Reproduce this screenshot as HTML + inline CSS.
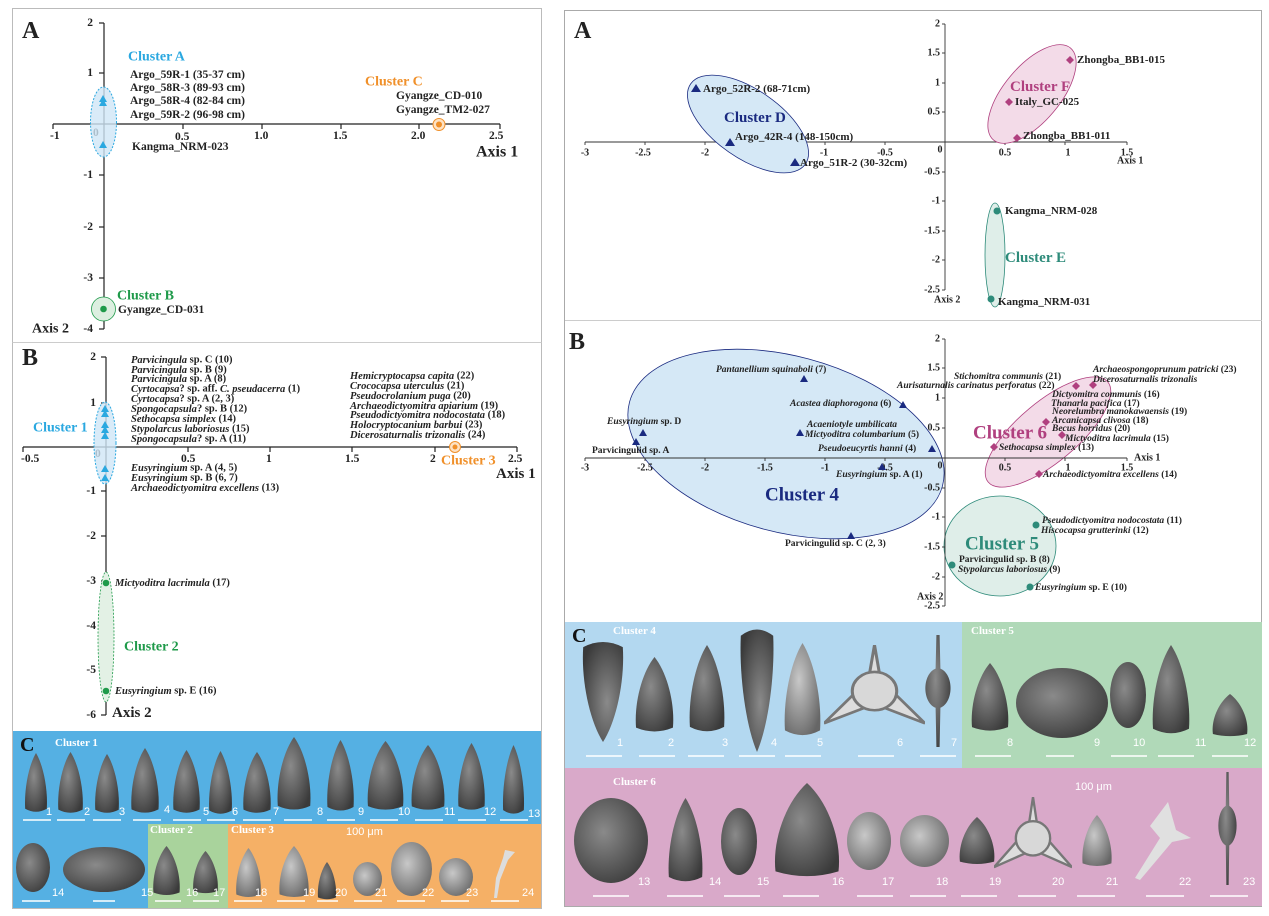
<!DOCTYPE html>
<html><head><meta charset="utf-8"><style>
html,body{margin:0;padding:0;background:#fff;}
svg{display:block;}
text{font-family:"Liberation Serif",serif;font-weight:bold;fill:#222;}
.c{dominant-baseline:central;}
.t{font-size:11.5px;}
.ri{font-size:9.5px;font-style:italic;}
g.n text, text.n{font-family:"Liberation Sans",sans-serif;font-weight:normal;fill:#fff;font-size:11px;}
.tk{font-size:11.5px;}
.tk2{font-size:10px;}
</style></head><body>
<svg width="1269" height="916" viewBox="0 0 1269 916" xmlns="http://www.w3.org/2000/svg">
<defs>
<radialGradient id="g" cx="0.4" cy="0.4" r="0.7"><stop offset="0" stop-color="#8a8a8a"/><stop offset="1" stop-color="#3a3a3a"/></radialGradient>
<radialGradient id="gl" cx="0.4" cy="0.4" r="0.7"><stop offset="0" stop-color="#c8c8c8"/><stop offset="1" stop-color="#666"/></radialGradient>
<symbol id="cone" viewBox="0 0 10 10" preserveAspectRatio="none"><path d="M5 0 C8 2 10 6 9.5 9.3 Q5 10.3 0.5 9.3 C0 6 2 2 5 0Z" fill="url(#g)"/></symbol>
<symbol id="conel" viewBox="0 0 10 10" preserveAspectRatio="none"><path d="M5 0 C8 2 10 6 9.5 9.3 Q5 10.3 0.5 9.3 C0 6 2 2 5 0Z" fill="url(#gl)"/></symbol>
<symbol id="ell" viewBox="0 0 10 10" preserveAspectRatio="none"><ellipse cx="5" cy="5" rx="5" ry="5" fill="url(#g)"/></symbol>
<symbol id="elll" viewBox="0 0 10 10" preserveAspectRatio="none"><ellipse cx="5" cy="5" rx="5" ry="5" fill="url(#gl)"/></symbol>
<symbol id="spin" viewBox="0 0 10 10" preserveAspectRatio="none"><path d="M4.6 0 L5.4 0 L5.6 3 C9 3.5 9 6 5.6 6.5 L5.4 10 L4.6 10 L4.4 6.5 C1 6 1 3.5 4.4 3Z" fill="url(#g)"/></symbol>
<symbol id="star" viewBox="0 0 10 10" preserveAspectRatio="none"><path d="M5 0 L5.6 4 L10 9 L5.5 7 L5 7.2 L4.5 7 L0 9 L4.4 4Z" fill="#ddd" stroke="#777" stroke-width="0.3"/><circle cx="5" cy="5.3" r="2.2" fill="#d8d8d8" stroke="#777" stroke-width="0.3"/></symbol>
</defs>

<!-- LEFT PANEL -->
<rect x="12.5" y="8.5" width="529" height="900" fill="#fff" stroke="#bbb"/>
<line x1="12.5" y1="342.5" x2="541.5" y2="342.5" stroke="#ccc"/>

<!-- Left A -->
<text x="22" y="31" style="font-size:24px" class="c">A</text>
<g stroke="#222" stroke-width="1.2" fill="none">
<line x1="53" y1="124" x2="500" y2="124"/>
<line x1="104" y1="23" x2="104" y2="329"/>
<line x1="53" y1="124" x2="53" y2="129"/><line x1="183" y1="124" x2="183" y2="129"/><line x1="262" y1="124" x2="262" y2="129"/><line x1="341" y1="124" x2="341" y2="129"/><line x1="419" y1="124" x2="419" y2="129"/><line x1="500" y1="124" x2="500" y2="129"/>
<line x1="99" y1="23" x2="104" y2="23"/><line x1="99" y1="73" x2="104" y2="73"/><line x1="99" y1="175" x2="104" y2="175"/><line x1="99" y1="227" x2="104" y2="227"/><line x1="99" y1="278" x2="104" y2="278"/><line x1="99" y1="329" x2="104" y2="329"/>
</g>
<g class="tk c">
<text x="50" y="136">-1</text><text x="93" y="133">0</text><text x="175" y="137">0.5</text><text x="254" y="136">1.0</text><text x="333" y="136">1.5</text><text x="411" y="136">2.0</text><text x="489" y="136">2.5</text>
</g>
<g class="tk c" text-anchor="end">
<text x="93" y="23">2</text><text x="93" y="73">1</text><text x="93" y="175">-1</text><text x="93" y="227">-2</text><text x="93" y="278">-3</text><text x="93" y="329">-4</text>
</g>
<text x="476" y="152" class="c" style="font-size:16px">Axis 1</text>
<text x="32" y="329" class="c" style="font-size:14px">Axis 2</text>
<ellipse cx="103.5" cy="122" rx="13" ry="35" fill="#cfe6f6" fill-opacity="0.8" stroke="#2aa8e0" stroke-dasharray="2,1.5"/>
<polygon points="103,95 99,102 107,102" fill="#2aa8e0"/><polygon points="103,99 99,106 107,106" fill="#2aa8e0"/><polygon points="103,141 99,148 107,148" fill="#2aa8e0"/>
<text x="128" y="57" class="c" style="font-size:14px;fill:#2aa8e0">Cluster A</text>
<g class="t c"><text x="130" y="75">Argo_59R-1 (35-37 cm)</text><text x="130" y="88">Argo_58R-3 (89-93 cm)</text><text x="130" y="101">Argo_58R-4 (82-84 cm)</text><text x="130" y="115">Argo_59R-2 (96-98 cm)</text><text x="132" y="147">Kangma_NRM-023</text>
<text x="396" y="96">Gyangze_CD-010</text><text x="396" y="110">Gyangze_TM2-027</text><text x="118" y="310">Gyangze_CD-031</text></g>
<text x="365" y="82" class="c" style="font-size:14px;fill:#f0902a">Cluster C</text>
<circle cx="439" cy="124.5" r="6" fill="#fde2c4" stroke="#f0902a"/><circle cx="439" cy="124.5" r="3" fill="#f0902a"/>
<text x="117" y="296" class="c" style="font-size:14px;fill:#1f9a4a">Cluster B</text>
<circle cx="103.5" cy="309" r="12" fill="#dcefe0" stroke="#1f9a4a" stroke-width="0.8"/><circle cx="103.5" cy="309" r="3.3" fill="#1f9a4a"/>

<!-- Left B -->
<text x="22" y="358" style="font-size:24px" class="c">B</text>
<g stroke="#222" stroke-width="1.2" fill="none">
<line x1="23" y1="447" x2="517" y2="447"/>
<line x1="106" y1="357" x2="106" y2="715"/>
<line x1="23" y1="447" x2="23" y2="452"/><line x1="188" y1="447" x2="188" y2="452"/><line x1="270" y1="447" x2="270" y2="452"/><line x1="352" y1="447" x2="352" y2="452"/><line x1="435" y1="447" x2="435" y2="452"/><line x1="517" y1="447" x2="517" y2="452"/>
<line x1="101" y1="357" x2="106" y2="357"/><line x1="101" y1="403" x2="106" y2="403"/><line x1="101" y1="491" x2="106" y2="491"/><line x1="101" y1="536" x2="106" y2="536"/><line x1="101" y1="581" x2="106" y2="581"/><line x1="101" y1="626" x2="106" y2="626"/><line x1="101" y1="670" x2="106" y2="670"/><line x1="101" y1="715" x2="106" y2="715"/>
</g>
<g class="tk c">
<text x="21" y="459">-0.5</text><text x="95" y="454">0</text><text x="181" y="459">0.5</text><text x="266" y="459">1</text><text x="345" y="459">1.5</text><text x="430" y="459">2</text><text x="508" y="459">2.5</text>
</g>
<g class="tk c" text-anchor="end">
<text x="96" y="357">2</text><text x="96" y="403">1</text><text x="96" y="491">-1</text><text x="96" y="536">-2</text><text x="96" y="581">-3</text><text x="96" y="626">-4</text><text x="96" y="670">-5</text><text x="96" y="715">-6</text>
</g>
<text x="496" y="474" class="c" style="font-size:15px">Axis 1</text>
<text x="112" y="713" class="c" style="font-size:15px">Axis 2</text>
<ellipse cx="105" cy="443" rx="11" ry="41" fill="#cfe6f6" fill-opacity="0.8" stroke="#2aa8e0" stroke-dasharray="2,1.5"/>
<g fill="#2aa8e0"><polygon points="105,405 101,412 109,412"/><polygon points="105,410 101,417 109,417"/><polygon points="105,421 101,428 109,428"/><polygon points="105,426 101,433 109,433"/><polygon points="105,432 101,439 109,439"/><polygon points="105,465 101,472 109,472"/><polygon points="105,474 101,481 109,481"/></g>
<text x="33" y="428" class="c" style="font-size:14px;fill:#2aa8e0">Cluster 1</text>
<ellipse cx="106" cy="637" rx="8" ry="65" fill="#e3f1e5" stroke="#1f9a4a" stroke-width="0.8" stroke-dasharray="2,1.5"/>
<circle cx="106" cy="583" r="3.3" fill="#1f9a4a"/><circle cx="106" cy="691" r="3.3" fill="#1f9a4a"/>
<text x="124" y="647" class="c" style="font-size:14px;fill:#1f9a4a">Cluster 2</text>
<circle cx="455" cy="447" r="5.5" fill="#fde2c4" stroke="#f0902a"/><circle cx="455" cy="447" r="2.5" fill="#f0902a"/>
<text x="441" y="461" class="c" style="font-size:14px;fill:#f0902a">Cluster 3</text>
<g class="c" style="font-size:10.5px">
<text x="131" y="360"><tspan font-style="italic">Parvicingula</tspan> sp. C (10)</text>
<text x="131" y="370"><tspan font-style="italic">Parvicingula</tspan> sp. B (9)</text>
<text x="131" y="379"><tspan font-style="italic">Parvicingula</tspan> sp. A (8)</text>
<text x="131" y="389"><tspan font-style="italic">Cyrtocapsa</tspan>? sp. aff. <tspan font-style="italic">C. pseudacerra</tspan> (1)</text>
<text x="131" y="399"><tspan font-style="italic">Cyrtocapsa</tspan>? sp. A (2, 3)</text>
<text x="131" y="409"><tspan font-style="italic">Spongocapsula</tspan>? sp. B (12)</text>
<text x="131" y="419"><tspan font-style="italic">Sethocapsa simplex</tspan> (14)</text>
<text x="131" y="429"><tspan font-style="italic">Stypolarcus laboriosus</tspan> (15)</text>
<text x="131" y="439"><tspan font-style="italic">Spongocapsula</tspan>? sp. A (11)</text>
<text x="131" y="468"><tspan font-style="italic">Eusyringium</tspan> sp. A (4, 5)</text>
<text x="131" y="478"><tspan font-style="italic">Eusyringium</tspan> sp. B (6, 7)</text>
<text x="131" y="488"><tspan font-style="italic">Archaeodictyomitra excellens</tspan> (13)</text>
<text x="350" y="376"><tspan font-style="italic">Hemicryptocapsa capita</tspan> (22)</text>
<text x="350" y="386"><tspan font-style="italic">Crococapsa uterculus</tspan> (21)</text>
<text x="350" y="396"><tspan font-style="italic">Pseudocrolanium puga</tspan> (20)</text>
<text x="350" y="406"><tspan font-style="italic">Archaeodictyomitra apiarium</tspan> (19)</text>
<text x="350" y="415"><tspan font-style="italic">Pseudodictyomitra nodocostata</tspan> (18)</text>
<text x="350" y="425"><tspan font-style="italic">Holocryptocanium barbui</tspan> (23)</text>
<text x="350" y="435"><tspan font-style="italic">Dicerosaturnalis trizonalis</tspan> (24)</text>
<text x="115" y="583"><tspan font-style="italic">Mictyoditra lacrimula</tspan> (17)</text>
<text x="115" y="691"><tspan font-style="italic">Eusyringium</tspan> sp. E (16)</text>
</g>

<!-- Left C -->
<rect x="13" y="731" width="528" height="93" fill="#55b0e3"/>
<rect x="13" y="824" width="135" height="84" fill="#55b0e3"/>
<rect x="148" y="824" width="80" height="84" fill="#a9d39c"/>
<rect x="228" y="824" width="313" height="84" fill="#f5b066"/>
<text x="20" y="745" class="c" style="font-size:20px;fill:#111">C</text>
<text x="55" y="743" class="c" style="font-size:11px;fill:#fff">Cluster 1</text>
<text x="150" y="830" class="c" style="font-size:11px;fill:#fff">Cluster 2</text>
<text x="231" y="830" class="c" style="font-size:11px;fill:#fff">Cluster 3</text>
<text x="346" y="832" class="n c">100 μm</text>
<use href="#cone" x="24" y="753" width="24" height="60"/>
<use href="#cone" x="57" y="752" width="27" height="62"/>
<use href="#cone" x="94" y="754" width="26" height="60"/>
<use href="#cone" x="130" y="748" width="30" height="66"/>
<use href="#cone" x="172" y="750" width="29" height="64"/>
<use href="#cone" x="208" y="751" width="25" height="64"/>
<use href="#cone" x="242" y="752" width="30" height="62"/>
<use href="#cone" x="276" y="737" width="36" height="74"/>
<use href="#cone" x="326" y="740" width="29" height="72"/>
<use href="#cone" x="366" y="741" width="39" height="70"/>
<use href="#cone" x="410" y="745" width="36" height="66"/>
<use href="#cone" x="457" y="743" width="29" height="68"/>
<use href="#cone" x="502" y="745" width="23" height="70"/>
<use href="#ell" x="16" y="843" width="34" height="49"/>
<use href="#ell" x="63" y="847" width="82" height="45"/>
<use href="#cone" x="152" y="846" width="29" height="50"/>
<use href="#cone" x="192" y="851" width="27" height="43"/>
<use href="#conel" x="235" y="848" width="27" height="50"/>
<use href="#conel" x="278" y="846" width="32" height="52"/>
<use href="#cone" x="317" y="862" width="20" height="38"/>
<use href="#elll" x="353" y="862" width="29" height="34"/>
<use href="#elll" x="391" y="842" width="41" height="54"/>
<use href="#elll" x="439" y="858" width="34" height="38"/>
<path d="M505 850 L515 852 L508 860 L500 880 L497 898 L494 898 L496 878 L503 858Z" fill="#ddd"/>
<g class="n c">
<text x="46" y="812">1</text><text x="84" y="812">2</text><text x="119" y="812">3</text><text x="164" y="810">4</text><text x="203" y="812">5</text><text x="232" y="812">6</text><text x="273" y="812">7</text><text x="317" y="812">8</text><text x="358" y="812">9</text><text x="398" y="812">10</text><text x="444" y="812">11</text><text x="484" y="812">12</text><text x="528" y="814">13</text>
<text x="52" y="893">14</text><text x="141" y="893">15</text><text x="186" y="893">16</text><text x="213" y="893">17</text><text x="255" y="893">18</text><text x="303" y="893">19</text><text x="335" y="893">20</text><text x="375" y="893">21</text><text x="422" y="893">22</text><text x="466" y="893">23</text><text x="522" y="893">24</text>
</g>
<g stroke="#fff" stroke-width="1.5">
<line x1="23" y1="820" x2="51" y2="820"/><line x1="57" y1="820" x2="85" y2="820"/><line x1="93" y1="820" x2="121" y2="820"/><line x1="133" y1="820" x2="161" y2="820"/><line x1="173" y1="820" x2="201" y2="820"/><line x1="207" y1="820" x2="235" y2="820"/><line x1="243" y1="820" x2="271" y2="820"/><line x1="284" y1="820" x2="312" y2="820"/><line x1="327" y1="820" x2="355" y2="820"/><line x1="370" y1="820" x2="398" y2="820"/><line x1="415" y1="820" x2="443" y2="820"/><line x1="458" y1="820" x2="486" y2="820"/><line x1="500" y1="820" x2="528" y2="820"/>
<line x1="22" y1="901" x2="50" y2="901"/><line x1="93" y1="901" x2="115" y2="901"/><line x1="155" y1="901" x2="181" y2="901"/><line x1="193" y1="901" x2="219" y2="901"/><line x1="234" y1="901" x2="262" y2="901"/><line x1="277" y1="901" x2="305" y2="901"/><line x1="317" y1="901" x2="338" y2="901"/><line x1="354" y1="901" x2="382" y2="901"/><line x1="397" y1="901" x2="425" y2="901"/><line x1="441" y1="901" x2="469" y2="901"/><line x1="491" y1="901" x2="519" y2="901"/>
</g>

<!-- RIGHT PANEL -->
<rect x="564.5" y="10.5" width="697" height="896" fill="#fff" stroke="#aaa"/>
<line x1="565" y1="320.5" x2="1262" y2="320.5" stroke="#ccc"/>

<!-- Right A -->
<text x="574" y="31" style="font-size:24px" class="c">A</text>
<g stroke="#333" stroke-width="0.9" fill="none">
<line x1="585" y1="142" x2="1127" y2="142"/>
<line x1="945" y1="24" x2="945" y2="290"/>
<line x1="585" y1="142" x2="585" y2="145"/><line x1="645" y1="142" x2="645" y2="145"/><line x1="705" y1="142" x2="705" y2="145"/><line x1="765" y1="142" x2="765" y2="145"/><line x1="825" y1="142" x2="825" y2="145"/><line x1="885" y1="142" x2="885" y2="145"/><line x1="1005" y1="142" x2="1005" y2="145"/><line x1="1065" y1="142" x2="1065" y2="145"/><line x1="1127" y1="142" x2="1127" y2="145"/>
<line x1="942" y1="24" x2="945" y2="24"/><line x1="942" y1="53" x2="945" y2="53"/><line x1="942" y1="83" x2="945" y2="83"/><line x1="942" y1="112" x2="945" y2="112"/><line x1="942" y1="172" x2="945" y2="172"/><line x1="942" y1="201" x2="945" y2="201"/><line x1="942" y1="231" x2="945" y2="231"/><line x1="942" y1="260" x2="945" y2="260"/><line x1="942" y1="290" x2="945" y2="290"/>
</g>
<g class="tk2 c" text-anchor="middle">
<text x="585" y="153">-3</text><text x="643" y="153">-2.5</text><text x="705" y="153">-2</text><text x="762" y="153">-1.5</text><text x="824" y="153">-1</text><text x="885" y="153">-0.5</text><text x="940" y="150">0</text><text x="1005" y="153">0.5</text><text x="1068" y="153">1</text><text x="1127" y="153">1.5</text>
</g>
<g class="tk2 c" text-anchor="end">
<text x="940" y="24">2</text><text x="940" y="53">1.5</text><text x="940" y="83">1</text><text x="940" y="112">0.5</text><text x="940" y="172">-0.5</text><text x="940" y="201">-1</text><text x="940" y="231">-1.5</text><text x="940" y="260">-2</text><text x="940" y="290">-2.5</text>
</g>
<text x="1117" y="161" class="tk2 c" font-weight="normal">Axis 1</text>
<text x="934" y="300" class="tk2 c" font-weight="normal">Axis 2</text>
<ellipse cx="748" cy="124" rx="70" ry="34" transform="rotate(35 748 124)" fill="#d5e8f6" stroke="#1a2a80" stroke-width="0.8"/>
<ellipse cx="1032" cy="94" rx="60" ry="28" transform="rotate(-50 1032 94)" fill="#f3dbe8" stroke="#b0407f" stroke-width="0.8"/>
<ellipse cx="995" cy="255" rx="10" ry="52" fill="#dfeee9" stroke="#2e8b7a" stroke-width="0.8"/>
<g fill="#1a2a80"><polygon points="696,84 691,92 701,92"/><polygon points="730,138 725,146 735,146"/><polygon points="795,158 790,166 800,166"/></g>
<g fill="#b0407f"><polygon points="1070,56 1074,60 1070,64 1066,60"/><polygon points="1009,98 1013,102 1009,106 1005,102"/><polygon points="1017,134 1021,138 1017,142 1013,138"/></g>
<g fill="#2e8b7a"><circle cx="997" cy="211" r="3.5"/><circle cx="991" cy="299" r="3.5"/></g>
<g class="c" style="font-size:11px">
<text x="703" y="89">Argo_52R-2 (68-71cm)</text><text x="735" y="137">Argo_42R-4 (148-150cm)</text><text x="800" y="163">Argo_51R-2 (30-32cm)</text>
<text x="1077" y="60">Zhongba_BB1-015</text><text x="1015" y="102">Italy_GC-025</text><text x="1023" y="136">Zhongba_BB1-011</text>
<text x="1005" y="211">Kangma_NRM-028</text><text x="998" y="302">Kangma_NRM-031</text>
</g>
<text x="724" y="118" class="c" style="font-size:15px;fill:#1a2a80">Cluster D</text>
<text x="1010" y="87" class="c" style="font-size:15px;fill:#b0407f">Cluster F</text>
<text x="1005" y="258" class="c" style="font-size:15px;fill:#2e8b7a">Cluster E</text>

<!-- Right B -->
<text x="569" y="342" style="font-size:24px" class="c">B</text>
<ellipse cx="786" cy="444" rx="162" ry="88" transform="rotate(15 786 444)" fill="#d5e8f6" stroke="#1a2a80" stroke-width="0.8"/>
<ellipse cx="1048" cy="432" rx="78" ry="30" transform="rotate(-40 1048 432)" fill="#f3dbe8" stroke="#b0407f" stroke-width="0.8"/>
<ellipse cx="1000" cy="546" rx="56" ry="50" fill="#dfeee9" stroke="#2e8b7a" stroke-width="0.8"/>
<g stroke="#333" stroke-width="0.9" fill="none">
<line x1="585" y1="458" x2="1127" y2="458"/>
<line x1="945" y1="339" x2="945" y2="606"/>
<line x1="585" y1="458" x2="585" y2="461"/><line x1="645" y1="458" x2="645" y2="461"/><line x1="705" y1="458" x2="705" y2="461"/><line x1="765" y1="458" x2="765" y2="461"/><line x1="825" y1="458" x2="825" y2="461"/><line x1="885" y1="458" x2="885" y2="461"/><line x1="1005" y1="458" x2="1005" y2="461"/><line x1="1065" y1="458" x2="1065" y2="461"/><line x1="1127" y1="458" x2="1127" y2="461"/>
<line x1="942" y1="339" x2="945" y2="339"/><line x1="942" y1="368" x2="945" y2="368"/><line x1="942" y1="398" x2="945" y2="398"/><line x1="942" y1="428" x2="945" y2="428"/><line x1="942" y1="488" x2="945" y2="488"/><line x1="942" y1="517" x2="945" y2="517"/><line x1="942" y1="547" x2="945" y2="547"/><line x1="942" y1="577" x2="945" y2="577"/><line x1="942" y1="606" x2="945" y2="606"/>
</g>
<g class="tk2 c" text-anchor="middle">
<text x="585" y="468">-3</text><text x="645" y="468">-2.5</text><text x="705" y="468">-2</text><text x="765" y="468">-1.5</text><text x="825" y="468">-1</text><text x="885" y="468">-0.5</text><text x="940" y="466">0</text><text x="1005" y="468">0.5</text><text x="1068" y="468">1</text><text x="1127" y="468">1.5</text>
</g>
<g class="tk2 c" text-anchor="end">
<text x="940" y="339">2</text><text x="940" y="368">1.5</text><text x="940" y="398">1</text><text x="940" y="428">0.5</text><text x="940" y="488">-0.5</text><text x="940" y="517">-1</text><text x="940" y="547">-1.5</text><text x="940" y="577">-2</text><text x="940" y="606">-2.5</text>
</g>
<text x="1134" y="458" class="tk2 c" font-weight="normal">Axis 1</text>
<text x="917" y="597" class="tk2 c" font-weight="normal">Axis 2</text>
<g fill="#1a2a80"><polygon points="804,375 800,382 808,382"/><polygon points="903,401 899,408 907,408"/><polygon points="800,429 796,436 804,436"/><polygon points="932,445 928,452 936,452"/><polygon points="882,463 878,470 886,470"/><polygon points="643,429 639,436 647,436"/><polygon points="636,438 632,445 640,445"/><polygon points="851,532 847,539 855,539"/></g>
<g fill="#b0407f"><polygon points="1076,382 1080,386 1076,390 1072,386"/><polygon points="1093,381 1097,385 1093,389 1089,385"/><polygon points="1046,418 1050,422 1046,426 1042,422"/><polygon points="1062,431 1066,435 1062,439 1058,435"/><polygon points="994,443 998,447 994,451 990,447"/><polygon points="1039,470 1043,474 1039,478 1035,474"/></g>
<g fill="#2e8b7a"><circle cx="1036" cy="525" r="3.5"/><circle cx="952" cy="565" r="3.5"/><circle cx="1030" cy="587" r="3.5"/></g>
<g class="ri c">
<text x="716" y="370">Pantanellium squinaboli <tspan font-style="normal">(7)</tspan></text>
<text x="790" y="404">Acastea diaphorogona <tspan font-style="normal">(6)</tspan></text>
<text x="807" y="425">Acaeniotyle umbilicata</text>
<text x="805" y="435">Mictyoditra columbarium <tspan font-style="normal">(5)</tspan></text>
<text x="818" y="449">Pseudoeucyrtis hanni <tspan font-style="normal">(4)</tspan></text>
<text x="836" y="475">Eusyringium <tspan font-style="normal">sp. A (1)</tspan></text>
<text x="607" y="422">Eusyringium <tspan font-style="normal">sp. D</tspan></text>
<text x="592" y="451" font-style="normal">Parvicingulid sp. A</text>
<text x="785" y="544" font-style="normal">Parvicingulid sp. C (2, 3)</text>
<text x="954" y="377">Stichomitra communis <tspan font-style="normal">(21)</tspan></text>
<text x="897" y="386">Aurisaturnalis carinatus perforatus <tspan font-style="normal">(22)</tspan></text>
<text x="1093" y="370">Archaeospongoprunum patricki <tspan font-style="normal">(23)</tspan></text>
<text x="1093" y="380">Dicerosaturnalis trizonalis</text>
<text x="1052" y="395">Dictyomitra communis <tspan font-style="normal">(16)</tspan></text>
<text x="1051" y="404">Thanarla pacifica <tspan font-style="normal">(17)</tspan></text>
<text x="1052" y="412">Neorelumbra manokawaensis <tspan font-style="normal">(19)</tspan></text>
<text x="1052" y="421">Arcanicapsa clivosa <tspan font-style="normal">(18)</tspan></text>
<text x="1052" y="429">Becus horridus <tspan font-style="normal">(20)</tspan></text>
<text x="1065" y="439">Mictyoditra lacrimula <tspan font-style="normal">(15)</tspan></text>
<text x="999" y="448">Sethocapsa simplex <tspan font-style="normal">(13)</tspan></text>
<text x="1043" y="475">Archaeodictyomitra excellens <tspan font-style="normal">(14)</tspan></text>
<text x="1042" y="521">Pseudodictyomitra nodocostata <tspan font-style="normal">(11)</tspan></text>
<text x="1041" y="531">Hiscocapsa grutterinki <tspan font-style="normal">(12)</tspan></text>
<text x="959" y="560" font-style="normal">Parvicingulid sp. B (8)</text>
<text x="958" y="570">Stypolarcus laboriosus <tspan font-style="normal">(9)</tspan></text>
<text x="1035" y="588">Eusyringium <tspan font-style="normal">sp. E (10)</tspan></text>
</g>
<text x="765" y="495" class="c" style="font-size:19px;fill:#1a2a80">Cluster 4</text>
<text x="973" y="433" class="c" style="font-size:19px;fill:#b0407f">Cluster 6</text>
<text x="965" y="544" class="c" style="font-size:19px;fill:#2e8b7a">Cluster 5</text>

<!-- Right C -->
<rect x="565" y="622" width="397" height="146" fill="#b3d8f0"/>
<rect x="962" y="622" width="300" height="146" fill="#b0d9b8"/>
<rect x="565" y="768" width="697" height="138" fill="#d9a9c9"/>
<text x="572" y="636" class="c" style="font-size:20px;fill:#111">C</text>
<text x="613" y="631" class="c" style="font-size:11px;fill:#fff">Cluster 4</text>
<text x="971" y="631" class="c" style="font-size:11px;fill:#fff">Cluster 5</text>
<text x="613" y="782" class="c" style="font-size:11px;fill:#fff">Cluster 6</text>
<text x="1075" y="787" class="n c">100 μm</text>
<use href="#cone" x="581" y="640" width="44" height="102" transform="rotate(180 603 691)"/>
<use href="#cone" x="634" y="657" width="41" height="76"/>
<use href="#cone" x="688" y="645" width="38" height="88"/>
<use href="#cone" x="739" y="627" width="36" height="125" transform="rotate(180 757 689.5)"/>
<use href="#conel" x="783" y="643" width="39" height="94"/>
<use href="#star" x="824" y="645" width="101" height="87"/>
<use href="#spin" x="918" y="635" width="40" height="112"/>
<use href="#cone" x="970" y="663" width="40" height="69"/>
<use href="#ell" x="1016" y="668" width="92" height="70"/>
<use href="#ell" x="1110" y="662" width="36" height="66"/>
<use href="#cone" x="1151" y="645" width="40" height="90"/>
<use href="#cone" x="1211" y="694" width="38" height="43"/>
<use href="#ell" x="574" y="798" width="74" height="85"/>
<use href="#cone" x="667" y="798" width="37" height="85"/>
<use href="#ell" x="721" y="808" width="36" height="67"/>
<use href="#cone" x="772" y="783" width="70" height="95"/>
<use href="#elll" x="847" y="812" width="44" height="58"/>
<use href="#elll" x="900" y="815" width="49" height="52"/>
<use href="#cone" x="958" y="817" width="38" height="48"/>
<use href="#star" x="994" y="797" width="78" height="78"/>
<use href="#conel" x="1081" y="815" width="32" height="52"/>
<path d="M1168 802 L1176 830 L1191 838 L1172 842 L1140 880 L1135 878 L1160 838 L1150 826 Z" fill="#e0e0e0"/>
<use href="#spin" x="1213" y="772" width="29" height="113"/>
<g class="n c">
<text x="617" y="743">1</text><text x="668" y="743">2</text><text x="722" y="743">3</text><text x="771" y="743">4</text><text x="817" y="743">5</text><text x="897" y="743">6</text><text x="951" y="743">7</text>
<text x="1007" y="743">8</text><text x="1094" y="743">9</text><text x="1133" y="743">10</text><text x="1195" y="743">11</text><text x="1244" y="743">12</text>
<text x="638" y="882">13</text><text x="709" y="882">14</text><text x="757" y="882">15</text><text x="832" y="882">16</text><text x="882" y="882">17</text><text x="936" y="882">18</text><text x="989" y="882">19</text><text x="1052" y="882">20</text><text x="1106" y="882">21</text><text x="1179" y="882">22</text><text x="1243" y="882">23</text>
</g>
<g stroke="#fff" stroke-width="1.6">
<line x1="586" y1="756" x2="622" y2="756"/><line x1="639" y1="756" x2="675" y2="756"/><line x1="688" y1="756" x2="724" y2="756"/><line x1="739" y1="756" x2="775" y2="756"/><line x1="785" y1="756" x2="821" y2="756"/><line x1="858" y1="756" x2="894" y2="756"/><line x1="920" y1="756" x2="956" y2="756"/>
<line x1="975" y1="756" x2="1011" y2="756"/><line x1="1046" y1="756" x2="1074" y2="756"/><line x1="1111" y1="756" x2="1147" y2="756"/><line x1="1158" y1="756" x2="1194" y2="756"/><line x1="1212" y1="756" x2="1248" y2="756"/>
<line x1="593" y1="896" x2="629" y2="896"/><line x1="667" y1="896" x2="703" y2="896"/><line x1="724" y1="896" x2="760" y2="896"/><line x1="783" y1="896" x2="819" y2="896"/><line x1="857" y1="896" x2="893" y2="896"/><line x1="910" y1="896" x2="946" y2="896"/><line x1="961" y1="896" x2="997" y2="896"/><line x1="1018" y1="896" x2="1056" y2="896"/><line x1="1077" y1="896" x2="1115" y2="896"/><line x1="1146" y1="896" x2="1184" y2="896"/><line x1="1210" y1="896" x2="1248" y2="896"/>
</g>
</svg>
</body></html>
